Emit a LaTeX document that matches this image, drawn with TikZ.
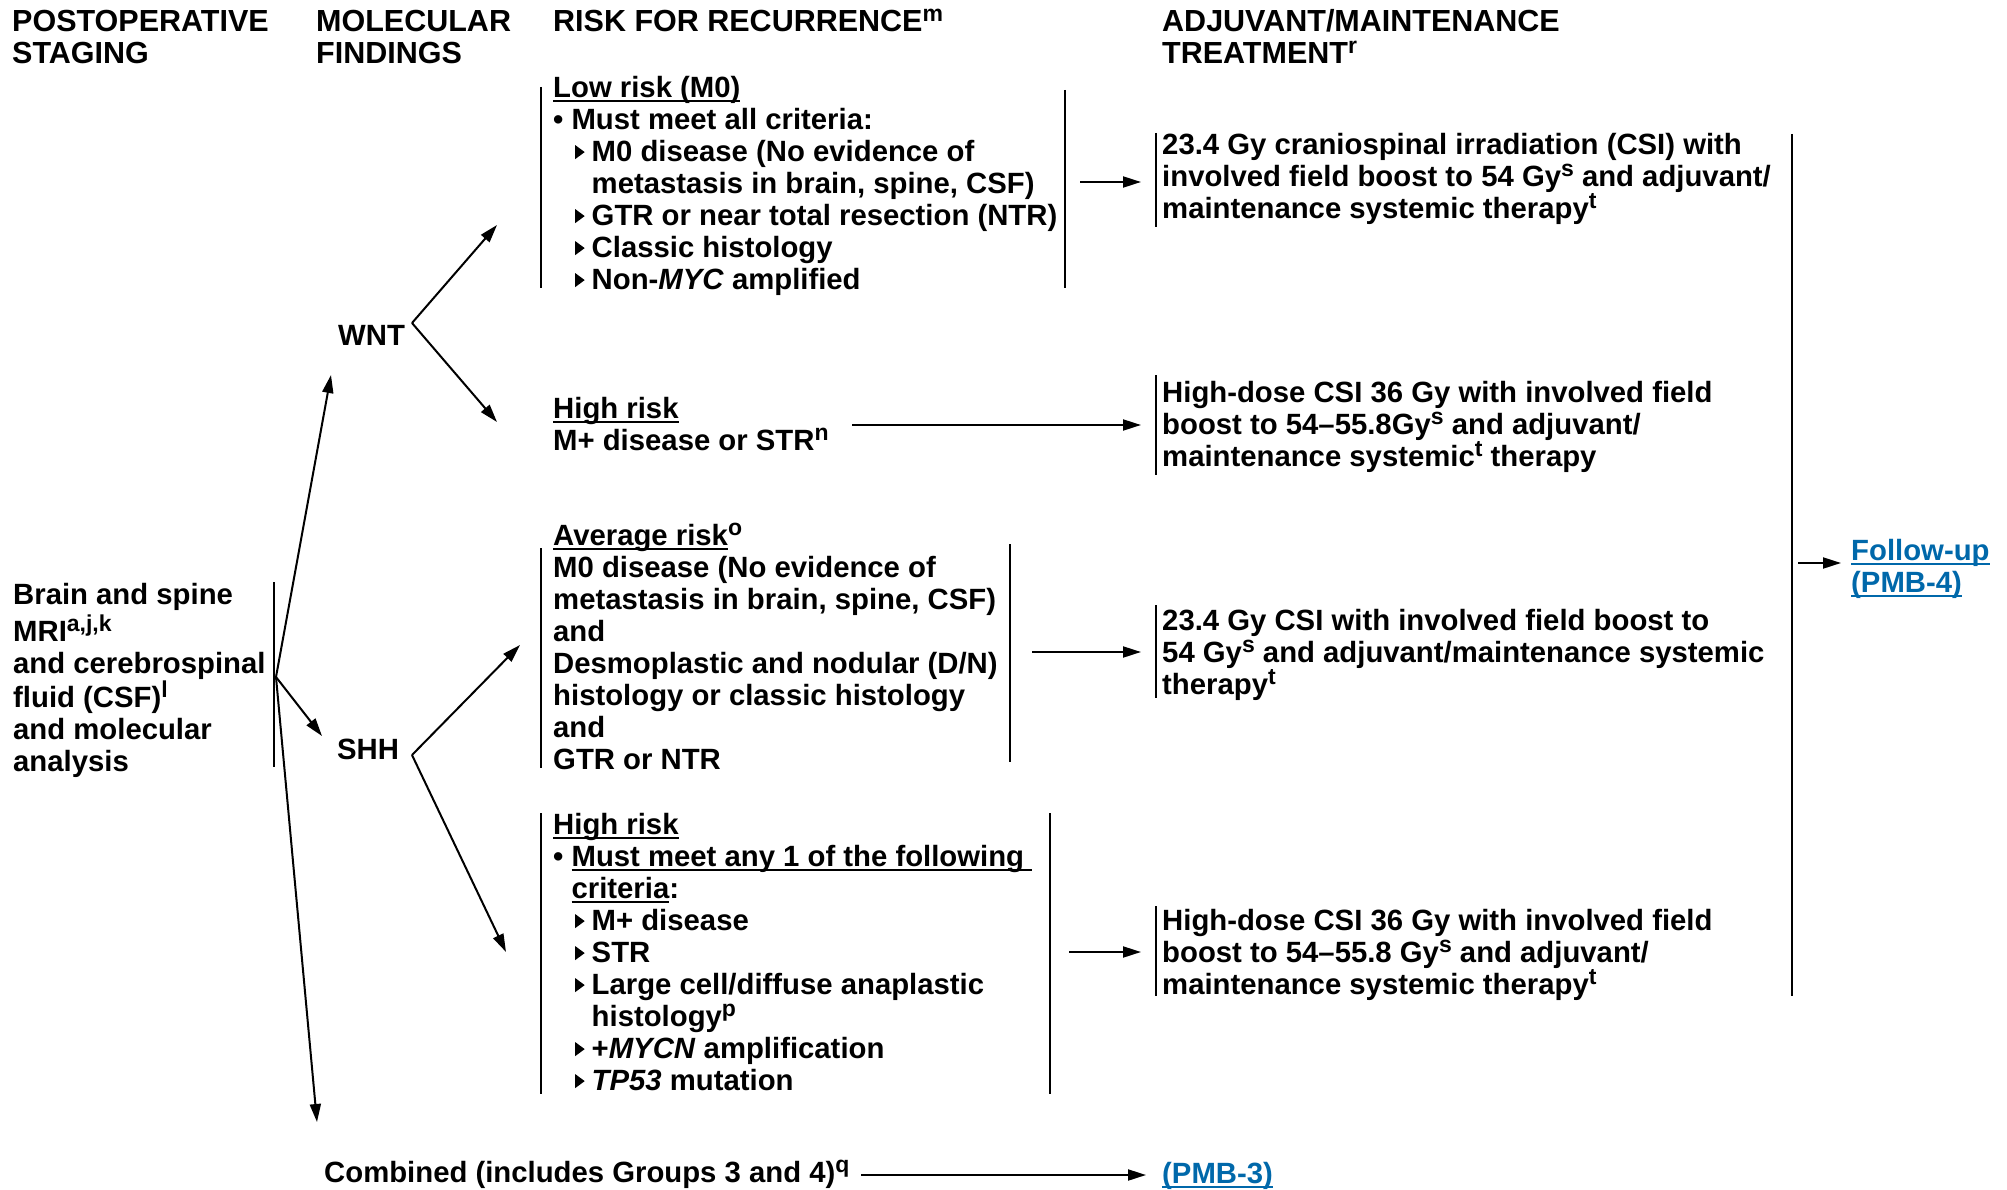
\documentclass[tikz,border=0pt]{standalone}
\usepackage{fontspec}
\setmainfont{Liberation Sans}
\usetikzlibrary{arrows.meta}

\definecolor{linkblue}{RGB}{0,104,170}

% underline at a fixed depth below the baseline
\newcommand\ulx[1]{\leavevmode\setbox0=\hbox{#1}\rlap{\rule[-4.5pt]{\wd0}{2pt}}\box0}
% raised footnote letter
\newcommand\sups[1]{\raisebox{10pt}{\fontsize{23}{23}\selectfont #1}}
% small right-pointing triangle used as a sub-bullet
\newcommand\tri{\makebox[16.5pt][l]{\tikz[baseline=0pt]\fill (0pt,2.5pt)--(0pt,16.5pt)--(9.5pt,9.5pt)--cycle;}}

\tikzset{
  txt/.style={anchor=north west, inner sep=0pt, align=left,
    font=\fontsize{29.3}{32}\selectfont\bfseries},
  hdr/.style={txt, font=\fontsize{30.5}{32}\selectfont\bfseries},
  link/.style={txt, text=linkblue},
  bar/.style={line width=2pt},
  conn/.style={line width=2pt, -{Triangle[length=18pt,width=11pt]}},
}

\begin{document}
\begin{tikzpicture}[x=1pt,y=-1pt]
\useasboundingbox (0,0) rectangle (2007,1190);

% column headings
\node[hdr] (hpost) at (12,9)   {\strut POSTOPERATIVE\\STAGING};
\node[hdr] (hmol)  at (316,9)  {\strut MOLECULAR\\FINDINGS};
\node[hdr] (hrisk) at (553,9)  {\strut RISK FOR RECURRENCE\sups{m}};
\node[hdr] (hadj)  at (1162,9) {\strut ADJUVANT/MAINTENANCE\\TREATMENT\sups{r}};

% postoperative staging
\node[txt] (stage) at (13,582) {\strut Brain and spine\\MRI\sups{a,j,k}\\and cerebrospinal\\fluid (CSF)\sups{l}\\and molecular\\analysis};
\draw[bar] (274,582) -- (274,767);

% molecular findings
\node[txt] (wnt) at (338,323) {\strut WNT};
\node[txt] (shh) at (337,737) {\strut SHH};

% risk groups
\node[txt] (lowrisk) at (553,75) {\strut\ulx{Low risk (M0)}\\
  • Must meet all criteria:\\
  \hspace*{22pt}\tri M0 disease (No evidence of\\
  \hspace*{38.5pt}metastasis in brain, spine, CSF)\\
  \hspace*{22pt}\tri GTR or near total resection (NTR)\\
  \hspace*{22pt}\tri Classic histology\\
  \hspace*{22pt}\tri Non-\textit{MYC} amplified};
\draw[bar] (541,87) -- (541,288);
\draw[bar] (1065,90) -- (1065,288);

\node[txt] (wnthigh) at (553,396) {\strut\ulx{High risk}\\M+ disease or STR\sups{n}};

\node[txt] (avgrisk) at (553,523) {\strut\ulx{Average risk}\sups{o}\\
  M0 disease (No evidence of\\
  metastasis in brain, spine, CSF)\\
  and\\
  Desmoplastic and nodular (D/N)\\
  histology or classic histology\\
  and\\
  GTR or NTR};
\draw[bar] (541,548) -- (541,768);
\draw[bar] (1010,544) -- (1010,762);

\node[txt] (shhhigh) at (553,812) {\strut\ulx{High risk}\\
  • \ulx{Must meet any 1 of the following }\\
  \hspace*{18.4pt}\ulx{criteria}:\\
  \hspace*{22pt}\tri M+ disease\\
  \hspace*{22pt}\tri STR\\
  \hspace*{22pt}\tri Large cell/diffuse anaplastic\\
  \hspace*{38.5pt}histology\sups{p}\\
  \hspace*{22pt}\tri +\textit{MYCN} amplification\\
  \hspace*{22pt}\tri \textit{TP53} mutation};
\draw[bar] (541,813) -- (541,1094);
\draw[bar] (1050,813) -- (1050,1094);

\node[txt] (combined) at (324,1160) {\strut Combined (includes Groups 3 and 4)\sups{q}};

% treatments
\node[txt] (tlow) at (1162,132) {\strut 23.4 Gy craniospinal irradiation (CSI) with\\involved field boost to 54 Gy\sups{s} and adjuvant/\\maintenance systemic therapy\sups{t}};
\draw[bar] (1156,133) -- (1156,227);

\node[txt] (twnthigh) at (1162,380) {\strut High-dose CSI 36 Gy with involved field\\boost to 54–55.8Gy\sups{s} and adjuvant/\\maintenance systemic\sups{t} therapy};
\draw[bar] (1156,375) -- (1156,475);

\node[txt] (tavg) at (1162,608) {\strut 23.4 Gy CSI with involved field boost to\\54 Gy\sups{s} and adjuvant/maintenance systemic\\therapy\sups{t}};
\draw[bar] (1156,605) -- (1156,698);

\node[txt] (tshhhigh) at (1162,908) {\strut High-dose CSI 36 Gy with involved field\\boost to 54–55.8 Gy\sups{s} and adjuvant/\\maintenance systemic therapy\sups{t}};
\draw[bar] (1156,906) -- (1156,996);

\draw[bar] (1792,134) -- (1792,996);

\node[link] (follow) at (1851,538) {\strut\ulx{Follow-up}\\\ulx{(PMB-4)}};
\node[link] (pmb3) at (1162,1161) {\strut\ulx{(PMB-3)}};

% connector end points
\coordinate (o)      at (276,677);
\coordinate (wntin)  at (331,375);
\coordinate (shhin)  at (322,736);
\coordinate (combin) at (317,1122);
\coordinate (wv)     at (412,323);
\coordinate (sv)     at (412,755);
\coordinate (lowin)  at (497,225);
\coordinate (whin)   at (497,422);
\coordinate (avgin)  at (520,645);
\coordinate (shin)   at (506,952);
\coordinate (l1a) at (1080,182);  \coordinate (l1b) at (1141,182);
\coordinate (l2a) at (852,425);   \coordinate (l2b) at (1141,425);
\coordinate (l3a) at (1032,652);  \coordinate (l3b) at (1141,652);
\coordinate (l4a) at (1069,952);  \coordinate (l4b) at (1141,952);
\coordinate (l5a) at (861,1175);  \coordinate (l5b) at (1146,1175);
\coordinate (fa)  at (1798,563);  \coordinate (fb)  at (1841,563);

% connectors
\draw[conn] (o) -- (wntin);
\draw[conn] (o) -- (shhin);
\draw[conn] (o) -- (combin);
\draw[conn] (wv) -- (lowin);
\draw[conn] (wv) -- (whin);
\draw[conn] (sv) -- (avgin);
\draw[conn] (sv) -- (shin);
\draw[conn] (l1a) -- (l1b);
\draw[conn] (l2a) -- (l2b);
\draw[conn] (l3a) -- (l3b);
\draw[conn] (l4a) -- (l4b);
\draw[conn] (l5a) -- (l5b);
\draw[conn] (fa) -- (fb);
\end{tikzpicture}
\end{document}
